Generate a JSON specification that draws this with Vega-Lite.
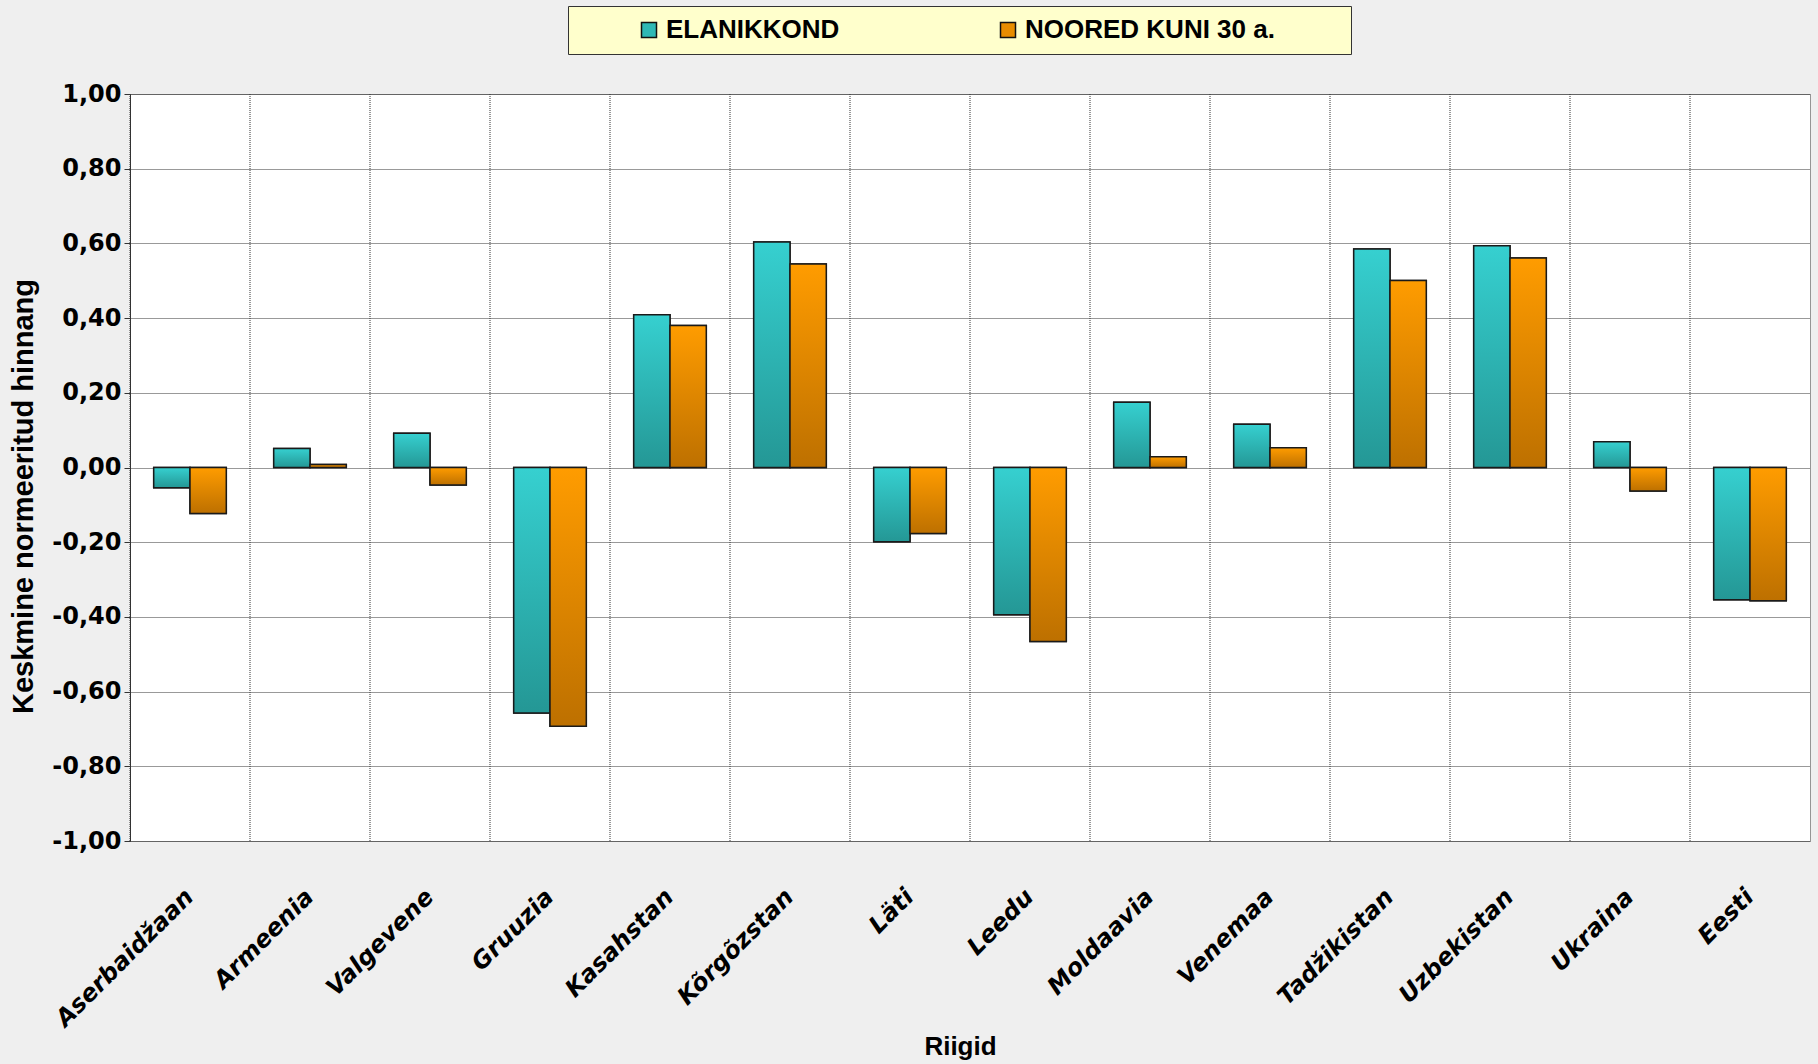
{
  "$schema": "https://vega.github.io/schema/vega-lite/v6.json",
  "width": 1680,
  "height": 747,
  "autosize": {"type": "none"},
  "padding": {"left": 130, "top": 94, "right": 8, "bottom": 223},
  "background": "#EFEFEF",
  "config": {
    "view": {"fill": "white", "stroke": "#333", "strokeDash": [1, 1]},
    "font": "Liberation Sans"
  },
  "data": {
    "values": [
      {"country": "Aserbaidžaan", "series": "ELANIKKOND", "value": -0.054},
      {"country": "Aserbaidžaan", "series": "NOORED KUNI 30 a.", "value": -0.123},
      {"country": "Armeenia", "series": "ELANIKKOND", "value": 0.051},
      {"country": "Armeenia", "series": "NOORED KUNI 30 a.", "value": 0.008},
      {"country": "Valgevene", "series": "ELANIKKOND", "value": 0.092},
      {"country": "Valgevene", "series": "NOORED KUNI 30 a.", "value": -0.047},
      {"country": "Gruuzia", "series": "ELANIKKOND", "value": -0.657},
      {"country": "Gruuzia", "series": "NOORED KUNI 30 a.", "value": -0.693},
      {"country": "Kasahstan", "series": "ELANIKKOND", "value": 0.409},
      {"country": "Kasahstan", "series": "NOORED KUNI 30 a.", "value": 0.380},
      {"country": "Kõrgõzstan", "series": "ELANIKKOND", "value": 0.604},
      {"country": "Kõrgõzstan", "series": "NOORED KUNI 30 a.", "value": 0.545},
      {"country": "Läti", "series": "ELANIKKOND", "value": -0.199},
      {"country": "Läti", "series": "NOORED KUNI 30 a.", "value": -0.177},
      {"country": "Leedu", "series": "ELANIKKOND", "value": -0.394},
      {"country": "Leedu", "series": "NOORED KUNI 30 a.", "value": -0.466},
      {"country": "Moldaavia", "series": "ELANIKKOND", "value": 0.175},
      {"country": "Moldaavia", "series": "NOORED KUNI 30 a.", "value": 0.029},
      {"country": "Venemaa", "series": "ELANIKKOND", "value": 0.116},
      {"country": "Venemaa", "series": "NOORED KUNI 30 a.", "value": 0.053},
      {"country": "Tadžikistan", "series": "ELANIKKOND", "value": 0.585},
      {"country": "Tadžikistan", "series": "NOORED KUNI 30 a.", "value": 0.501},
      {"country": "Uzbekistan", "series": "ELANIKKOND", "value": 0.594},
      {"country": "Uzbekistan", "series": "NOORED KUNI 30 a.", "value": 0.561},
      {"country": "Ukraina", "series": "ELANIKKOND", "value": 0.069},
      {"country": "Ukraina", "series": "NOORED KUNI 30 a.", "value": -0.063},
      {"country": "Eesti", "series": "ELANIKKOND", "value": -0.354},
      {"country": "Eesti", "series": "NOORED KUNI 30 a.", "value": -0.357}
    ]
  },
  "encoding": {
    "x": {
      "field": "country",
      "type": "nominal",
      "sort": null,
      "scale": {"paddingInner": 0, "paddingOuter": 0},
      "axis": {
        "title": "Riigid",
        "grid": false,
        "ticks": false,
        "domain": false,
        "labelAngle": -45,
        "labelAlign": "right",
        "labelBaseline": "middle",
        "labelPadding": 52,
        "labelLimit": 400,
        "labelFont": "DejaVu Sans",
        "labelFontWeight": "bold",
        "labelFontStyle": "italic",
        "labelFontSize": 24,
        "labelColor": "black",
        "labelBound": false,
        "labelOverlap": false,
        "titleFont": "Liberation Sans",
        "titleFontSize": 26,
        "titleFontWeight": "bold",
        "titleColor": "black",
        "titleX": 830,
        "titleY": 192,
        "titleAlign": "center",
        "titleBaseline": "top"
      }
    }
  },
  "layer": [
    {
      "transform": [{"filter": "datum.series == 'ELANIKKOND'"}],
      "mark": {"type": "rule", "color": "#333", "strokeDash": [1, 1], "strokeWidth": 1},
      "encoding": {
        "x": {"field": "country", "type": "nominal", "sort": null, "bandPosition": 0}
      }
    },
    {
      "mark": {"type": "bar", "stroke": "#1a1a1a", "strokeWidth": 1.5},
      "encoding": {
        "xOffset": {
          "field": "series",
          "type": "nominal",
          "sort": ["ELANIKKOND", "NOORED KUNI 30 a."],
          "scale": {"paddingInner": 0, "paddingOuter": 0.653}
        },
        "y": {
          "field": "value",
          "type": "quantitative",
          "scale": {"domain": [-1, 1], "nice": false},
          "axis": {
            "title": "Keskmine normeeritud hinnang",
            "values": [-1, -0.8, -0.6, -0.4, -0.2, 0, 0.2, 0.4, 0.6, 0.8, 1],
            "grid": true,
            "gridColor": "#333",
            "gridDash": [1, 1],
            "tickSize": 6,
            "tickColor": "#333",
            "domainColor": "#333",
            "labelExpr": "replace(replace(format(datum.value, '.2f'), '.', ','), '−', '-')",
            "labelFont": "DejaVu Sans",
            "labelFontWeight": "bold",
            "labelFontSize": 24,
            "labelColor": "black",
            "labelPadding": 3,
            "titleFont": "Liberation Sans",
            "titleFontSize": 29,
            "titleFontWeight": "bold",
            "titleColor": "black",
            "titleX": -107,
            "titleY": 402,
            "titleAngle": -90,
            "titleAlign": "center",
            "titleBaseline": "middle"
          }
        },
        "color": {
          "field": "series",
          "type": "nominal",
          "scale": {
            "domain": ["ELANIKKOND", "NOORED KUNI 30 a."],
            "range": ["#2EB8B6", "#E88C00"]
          },
          "legend": {
            "orient": "none",
            "legendX": 438,
            "legendY": -88,
            "direction": "horizontal",
            "title": " ",
            "titleOrient": "left",
            "titleFontSize": 26,
            "titlePadding": 57,
            "fillColor": "#FFFFCC",
            "strokeColor": "#333",
            "padding": 11,
            "labelFont": "Liberation Sans",
            "labelFontSize": 26,
            "labelFontWeight": "bold",
            "labelColor": "black",
            "labelLimit": 1000,
            "labelOffset": 4,
            "symbolType": "square",
            "symbolSize": 225,
            "symbolOpacity": 1,
            "symbolStrokeColor": "#111",
            "symbolStrokeWidth": 1.5,
            "columnPadding": 155,
            "labelExpr": "datum.index == 1 ? datum.label + '\u00a0\u00a0\u00a0\u00a0\u00a0\u00a0\u00a0\u00a0\u00a0\u200b' : datum.label"
          }
        }
      }
    },
    {
      "mark": {"type": "bar", "stroke": "#1a1a1a", "strokeWidth": 1.5},
      "encoding": {
        "xOffset": {
          "field": "series",
          "type": "nominal",
          "sort": ["ELANIKKOND", "NOORED KUNI 30 a."]
        },
        "y": {"field": "value", "type": "quantitative"},
        "fill": {
          "condition": {
            "test": "datum.series == 'ELANIKKOND'",
            "value": {"gradient": "linear", "x1": 0, "y1": 0, "x2": 0, "y2": 1, "stops": [{"offset": 0, "color": "#36D0D0"}, {"offset": 1, "color": "#249795"}]}
          },
          "value": {"gradient": "linear", "x1": 0, "y1": 0, "x2": 0, "y2": 1, "stops": [{"offset": 0, "color": "#FF9C00"}, {"offset": 1, "color": "#BD7000"}]}
        }
      }
    },
    {
      "mark": {"type": "rule", "color": "black", "strokeWidth": 1.5},
      "encoding": {"y": {"datum": 0}}
    }
  ]
}
